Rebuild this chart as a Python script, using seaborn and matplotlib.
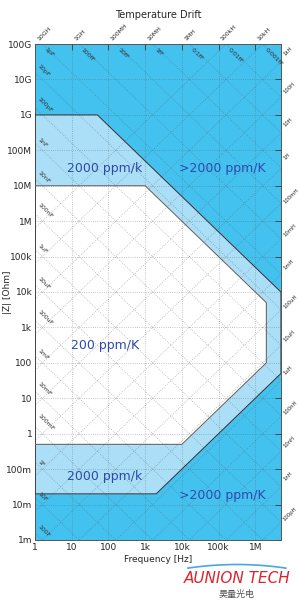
import numpy as np
import pandas as pd
import matplotlib.pyplot as plt
import seaborn as sns
from matplotlib.lines import Line2D

sns.set_style('white')
plt.rcParams['font.family'] = ['DejaVu Sans', 'Noto Sans CJK SC']

# --- data ---
x_ticks = [1, 10, 100, 1e3, 1e4, 1e5, 1e6]
x_labels = ['1', '10', '100', '1k', '10k', '100k', '1M']
y_ticks = [1e-3, 1e-2, 1e-1, 1, 10, 100, 1e3, 1e4, 1e5, 1e6, 1e7, 1e8, 1e9, 1e10, 1e11]
y_labels = ['1m', '10m', '100m', '1', '10', '100', '1k', '10k', '100k', '1M',
            '10M', '100M', '1G', '10G', '100G']

# outer boundary of the 2000 ppm/k band (frequency, impedance)
outer_f = [1, 50, 5e6, 5e6, 2e3, 1]
outer_z = [1e9, 1e9, 1e4, 50, 0.02, 0.02]
# inner 200 ppm/K region
inner_f = [1, 1e3, 2e6, 2e6, 1e4, 1]
inner_z = [1e7, 1e7, 5e3, 100, 0.5, 0.5]

top_L_labels = ['10GH', '1GH', '100MH', '10MH', '1MH', '100kH', '10kH']
right_L_labels = ['1kH', '100H', '10H', '1H', '100mH', '10mH', '1mH', '100uH',
                  '10uH', '1uH', '100nH', '10nH', '1nH', '100pH']
top_C_labels = ['1pF', '100fF', '10fF', '1fF', '0.1fF', '0.01fF', '0.001fF']
left_C_labels = ['10pF', '100pF', '1nF', '10nF', '100nF', '1uF', '10uF', '100uF',
                 '1mF', '10mF', '100mF', '1F', '10F', '100F']

cap_grid = [10.0 ** n for n in range(-19, 4)]
ind_grid = [10.0 ** n for n in range(-12, 6)]

DARK = '#43c2f0'
LIGHT = '#abdff7'
TXT = '#2e4aa8'

fig = plt.figure(figsize=(2.98, 6.07), dpi=100)
ax = fig.add_axes([0.1174, 0.1104, 0.8255, 0.8171])
ax.set_xscale('log')
ax.set_yscale('log')
ax.set_xlim(1, 5e6)
ax.set_ylim(1e-3, 1e11)
ax.set_facecolor(DARK)

ax.fill(outer_f, outer_z, color=LIGHT, zorder=1)
ax.fill(inner_f, inner_z, color='white', zorder=2)

outer_df = pd.DataFrame({'f': outer_f + [outer_f[0]], 'z': outer_z + [outer_z[0]]})
inner_df = pd.DataFrame({'f': inner_f, 'z': inner_z})
sns.lineplot(data=outer_df, x='f', y='z', sort=False, estimator=None,
             color='#2d3a44', linewidth=0.8, ax=ax, zorder=4)
sns.lineplot(data=inner_df, x='f', y='z', sort=False, estimator=None,
             color='#666666', linewidth=0.8, ax=ax, zorder=4)

# grid: decades plus constant C / L lines
f = np.logspace(0, np.log10(5e6), 50)
for c in cap_grid:
    ax.plot(f, 1 / (2 * np.pi * f * c), ls=':', lw=0.6, color='#555555', alpha=0.45, zorder=3)
for l in ind_grid:
    ax.plot(f, 2 * np.pi * f * l, ls=':', lw=0.6, color='#555555', alpha=0.45, zorder=3)
for xt in x_ticks[1:]:
    ax.axvline(xt, ls=':', lw=0.6, color='#555555', alpha=0.45, zorder=3)
for yt in y_ticks[1:-1]:
    ax.axhline(yt, ls=':', lw=0.6, color='#555555', alpha=0.45, zorder=3)

ax.set_xticks(x_ticks)
ax.set_xticklabels(x_labels)
ax.set_yticks(y_ticks)
ax.set_yticklabels(y_labels)
ax.minorticks_off()
ax.tick_params(direction='in', length=4, width=0.6, labelsize=6.5, pad=2,
               top=True, right=True, color='#333333')
ax.set_xlabel('Frequency [Hz]', fontsize=6.5, labelpad=2)
ax.set_ylabel('|Z| [Ohm]', fontsize=6.5)
ax.yaxis.set_label_coords(-0.095, 0.5)
for s in ax.spines.values():
    s.set_color('#555555')
    s.set_linewidth(0.7)
ax.set_title('Temperature Drift', fontsize=7, pad=19)

# inductance labels above and on the right
for xt, lab in zip(x_ticks, top_L_labels):
    ax.annotate(lab, (xt, 1e11), xytext=(1, 2), textcoords='offset points',
                rotation=45, ha='left', va='bottom', fontsize=4.5, annotation_clip=False)
for yt, lab in zip(y_ticks[::-1], right_L_labels):
    ax.annotate(lab, (5e6, yt), xytext=(1, -1), textcoords='offset points',
                rotation=45, ha='left', va='top', fontsize=3.8, annotation_clip=False)
# capacitance labels inside
for xt, lab in zip(x_ticks, top_C_labels):
    ax.annotate(lab, (xt, 1e11), xytext=(6, -2), textcoords='offset points',
                rotation=-45, ha='left', va='top', fontsize=4.5, color='#333333', zorder=5)
for yt, lab in zip(y_ticks[::-1][1:], left_C_labels):
    ax.annotate(lab, (1, yt), xytext=(1, 1), textcoords='offset points',
                rotation=-45, ha='left', va='bottom', fontsize=4.5, color='#333333', zorder=5)

# region labels
ax.text(80, 3e7, '2000 ppm/k', fontsize=9, color=TXT, ha='center', va='center', zorder=6)
ax.text(1.3e5, 3e7, '>2000 ppm/K', fontsize=9, color=TXT, ha='center', va='center', zorder=6)
ax.text(80, 300, '200 ppm/K', fontsize=9, color=TXT, ha='center', va='center', zorder=6)
ax.text(80, 0.06, '2000 ppm/k', fontsize=9, color=TXT, ha='center', va='center', zorder=6)
ax.text(1.3e5, 0.018, '>2000 ppm/K', fontsize=9, color=TXT, ha='center', va='center', zorder=6)

# logo
t = np.linspace(-1, 1, 40)
fig.add_artist(Line2D(0.795 + 0.165 * t, 0.064 + 0.006 * (1 - t ** 2),
                      transform=fig.transFigure, color='#4aa6e0', lw=1.2))
fig.text(0.795, 0.047, 'AUNION TECH', fontsize=11, color='#d9262e', style='italic',
         ha='center', va='center')
fig.text(0.795, 0.020, '昊量光电', fontsize=6.5, color='#555555', style='italic',
         ha='center', va='center', family=['Noto Sans CJK SC', 'DejaVu Sans'])

plt.savefig('out.png', dpi=100)
